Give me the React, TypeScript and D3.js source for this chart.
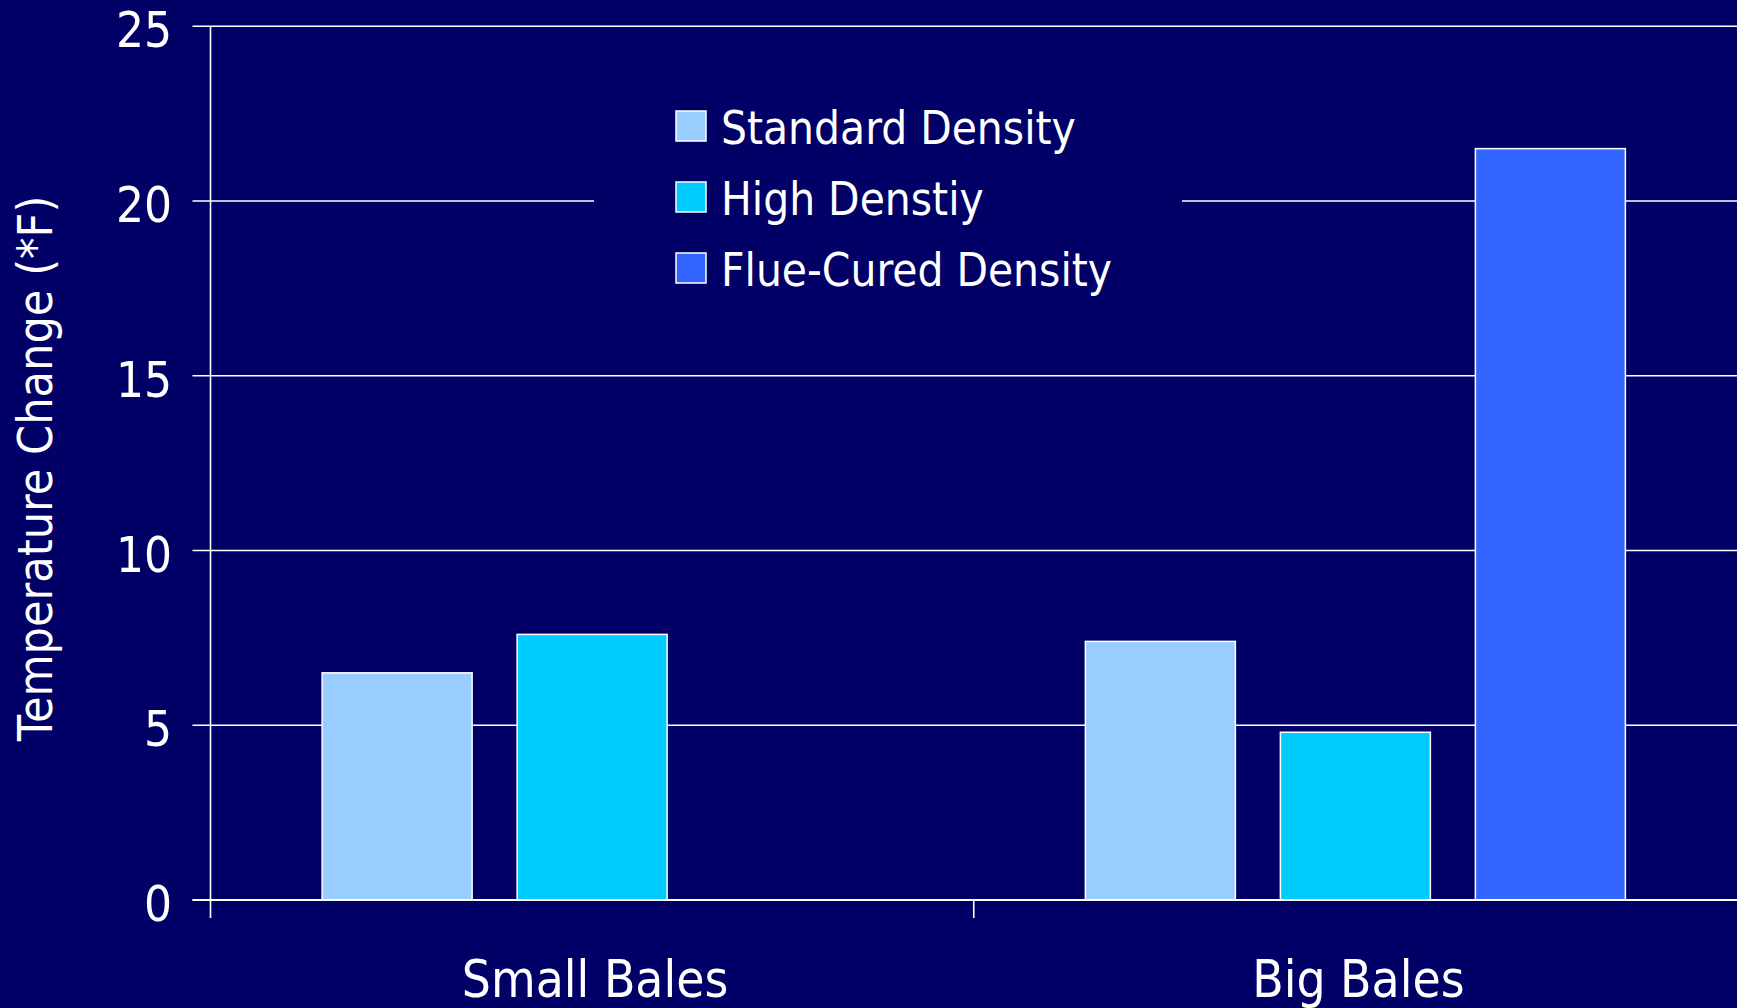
import * as d3 from "d3";

const categories = ["Small Bales", "Big Bales"];
const seriesNames = ["Standard Density", "High Denstiy", "Flue-Cured Density"];
const standardDensity = [6.5, 7.4];
const highDensity = [7.6, 4.8];
const flueCuredDensity = [null, 21.5];
const yTicks = [0, 5, 10, 15, 20, 25];
const seriesColors = ["#99CCFF", "#00CCFF", "#3366FF"];

const W = 1737;
const H = 1008;
const BG = "#000066";
const FONT = "Tahoma, 'DejaVu Sans Condensed', 'Liberation Sans', sans-serif";

export default function App() {
  const margin = { left: 210.5, right: 0, top: 26.3, bottom: 108 };
  const values = [standardDensity, highDensity, flueCuredDensity];

  const x0 = d3
    .scaleBand<string>()
    .domain(categories)
    .range([margin.left, W - margin.right]);

  const groupW = 540;
  const x1 = d3
    .scaleBand<string>()
    .domain(seriesNames)
    .range([(x0.bandwidth() - groupW) / 2, (x0.bandwidth() + groupW) / 2])
    .paddingInner(45 / 195);

  const y = d3.scaleLinear().domain([0, 25]).range([H - margin.bottom, margin.top]);

  const legendRows = seriesNames.map((name, i) => ({ name, color: seriesColors[i], cy: 126 + i * 71 }));

  return (
    <svg
      width={W}
      height={H}
      style={{ position: "absolute", left: 0, top: 0, display: "block", background: BG }}
    >
      <rect x={0} y={0} width={W} height={H} fill={BG} />

      {/* gridlines */}
      {yTicks.map((t) => (
        <line
          key={t}
          x1={margin.left - 18}
          x2={W}
          y1={y(t)}
          y2={y(t)}
          stroke="#fff"
          strokeWidth={1.6}
        />
      ))}

      {/* legend backdrop hides gridline */}
      <rect x={594} y={70} width={1182 - 594} height={240} fill={BG} />

      {/* bars */}
      {categories.map((cat, ci) => (
        <g key={cat} transform={`translate(${x0(cat)},0)`}>
          {seriesNames.map((s, si) => {
            const v = values[si][ci];
            if (v == null) return null;
            return (
              <rect
                key={s}
                x={x1(s)}
                y={y(v)}
                width={x1.bandwidth()}
                height={y(0) - y(v)}
                fill={seriesColors[si]}
                stroke="#fff"
                strokeWidth={1.5}
              />
            );
          })}
        </g>
      ))}

      {/* baseline + axis */}
      <line x1={margin.left - 18} x2={W} y1={y(0)} y2={y(0)} stroke="#fff" strokeWidth={2} />
      <line x1={margin.left} x2={margin.left} y1={y(25)} y2={y(0) + 18} stroke="#fff" strokeWidth={1.6} />
      {categories.slice(1).map((cat) => (
        <line
          key={cat}
          x1={x0(cat)}
          x2={x0(cat)}
          y1={y(0)}
          y2={y(0) + 18}
          stroke="#fff"
          strokeWidth={1.6}
        />
      ))}

      {/* y tick labels */}
      {yTicks.map((t) => (
        <text
          key={t}
          x={172}
          y={y(t) + 21}
          textAnchor="end"
          fill="#fff"
          fontFamily={FONT}
          fontSize={49}
        >
          {t}
        </text>
      ))}

      {/* category labels */}
      {categories.map((cat) => (
        <text
          key={cat}
          x={x0(cat)! + x0.bandwidth() / 2 + 3}
          y={997}
          textAnchor="middle"
          fill="#fff"
          fontFamily={FONT}
          fontSize={51}
        >
          {cat}
        </text>
      ))}

      {/* y axis title */}
      <text
        transform={`translate(52,${(197 + 740) / 2}) rotate(-90)`}
        textAnchor="middle"
        fill="#fff"
        fontFamily={FONT}
        fontSize={48}
      >
        Temperature Change (*F)
      </text>

      {/* legend */}
      {legendRows.map((r) => (
        <g key={r.name}>
          <rect
            x={676}
            y={r.cy - 15}
            width={30}
            height={30}
            fill={r.color}
            stroke="#fff"
            strokeWidth={1.5}
          />
          <text x={721} y={r.cy + 18} fill="#fff" fontFamily={FONT} fontSize={45.5}>
            {r.name}
          </text>
        </g>
      ))}
    </svg>
  );
}
